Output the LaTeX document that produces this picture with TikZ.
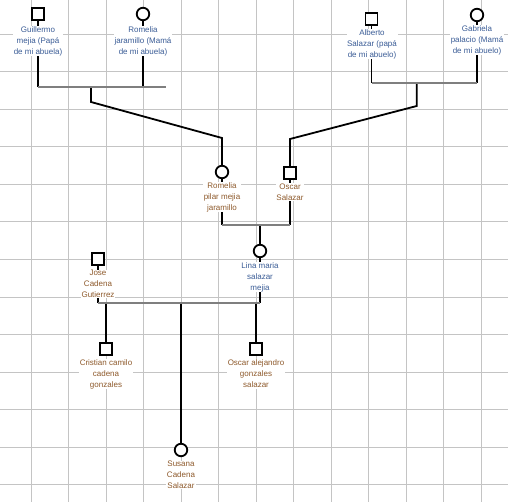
\documentclass[tikz,border=0pt]{standalone}
\usepackage{fontspec}
\setmainfont{Liberation Sans}
\definecolor{cgrid}{HTML}{C4C4C4}
\definecolor{cunion}{HTML}{7F7F7F}
\definecolor{cblue}{HTML}{3A5C96}
\definecolor{corange}{HTML}{8E5A2C}
\tikzset{
  every picture/.style={x=1pt, y=-1pt},
  male/.style={draw, rectangle, fill=white, line width=1.8pt, minimum size=12pt, inner sep=0pt},
  female/.style={draw, circle, fill=white, line width=1.8pt, minimum size=12.5pt, inner sep=0pt},
  lbl/.style={fill=white, align=center, inner sep=0.6pt, font=\fontsize{8}{11}\selectfont, text=#1},
  lbl/.default=cblue,
  link/.style={line width=1.8pt, draw=black},
  union/.style={line width=2pt, draw=cunion},
  gridline/.style={draw=cgrid, line width=1pt},
}

\begin{document}
\begin{tikzpicture}
  \useasboundingbox (0,0) rectangle (508,502);
  % grid
  \foreach \gx in {0,...,12} \draw[gridline] ({31.3+37.5*\gx},0) -- ++(0,502);
  \foreach \gy in {0,...,12} \draw[gridline] (0,{34.5+37.5*\gy}) -- ++(508,0);
  % people
  \node[male] (guil) at (38,14) {};
  \node[female] (rome) at (143,14) {};
  \node[male] (albe) at (371.5,19) {};
  \node[female] (gabr) at (477,15) {};
  \node[female] (romp) at (222,172) {};
  \node[male] (osca) at (290,173) {};
  \node[female] (lina) at (260,251) {};
  \node[male] (jose) at (98,259) {};
  \node[male] (cris) at (106,349) {};
  \node[female] (susa) at (181,450) {};
  \node[male] (osal) at (256,349) {};
  % unions and bends
  \coordinate (u1) at (91,87);   \coordinate (u1e) at (166,87);
  \coordinate (u1k) at (91,102); \coordinate (k1) at (222,138);
  \coordinate (u2) at (416.7,83);
  \coordinate (u2k) at (416.7,106); \coordinate (k2) at (290,139);
  \coordinate (u3) at (260,225);
  \coordinate (u4) at (181,303);
  % first generation
  \draw[link] (guil) -- (guil |- u1);
  \draw[link] (rome) -- (rome |- u1);
  \draw[link] (albe) -- (albe |- u2);
  \draw[link] (gabr) -- (gabr |- u2);
  \draw[link] (u1) -- (u1k) -- (k1) -- (romp);
  \draw[link] (u2) -- (u2k) -- (k2) -- (osca);
  \draw[union] (guil |- u1) -- (u1e);
  \draw[union] (albe |- u2) -- (gabr |- u2);
  % second generation
  \draw[link] (romp) -- (romp |- u3);
  \draw[link] (osca) -- (osca |- u3);
  \draw[link] (u3) -- (lina);
  \draw[union] (romp |- u3) -- (osca |- u3);
  % third generation
  \draw[link] (jose) -- (jose |- u4);
  \draw[link] (lina) -- (lina |- u4);
  \draw[link] (cris |- u4) -- (cris);
  \draw[link] (u4) -- (susa);
  \draw[link] (osal |- u4) -- (osal);
  \draw[union] (jose |- u4) -- (lina |- u4);
  % names
  \node[lbl] (tguil) at (38,41) {Guillermo\\mejia (Papá\\de mi abuela)};
  \node[lbl] (trome) at (143,41) {Romelia\\jaramillo (Mamá\\de mi abuela)};
  \node[lbl] (talbe) at (372,44) {Alberto\\Salazar (papá\\de mi abuelo)};
  \node[lbl] (tgabr) at (477,40) {Gabriela\\palacio (Mamá\\de mi abuelo)};
  \node[lbl=corange] (tromp) at (222,197) {Romelia\\pilar mejia\\jaramillo};
  \node[lbl=corange] (tosca) at (290,192) {Oscar\\Salazar};
  \node[lbl] (tlina) at (260,277) {Lina maria\\salazar\\mejia};
  \node[lbl=corange] (tjose) at (98,284) {Jose\\Cadena\\Gutierrez};
  \node[lbl=corange] (tcris) at (106,374) {Cristian camilo\\cadena\\gonzales};
  \node[lbl=corange] (tosal) at (256,374) {Oscar alejandro\\gonzales\\salazar};
  \node[lbl=corange] (tsusa) at (181,475) {Susana\\Cadena\\Salazar};
\end{tikzpicture}
\end{document}
